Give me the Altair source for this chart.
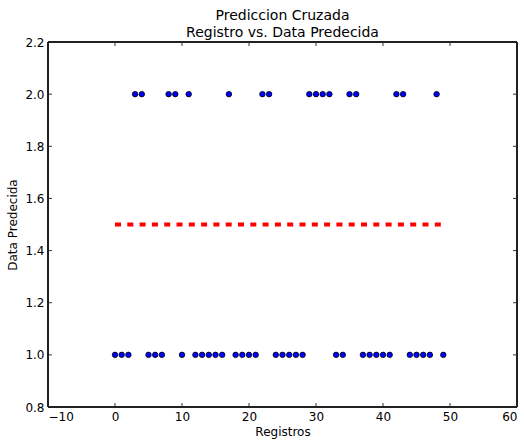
import altair as alt
import pandas as pd

registros = list(range(50))
predicho = [1, 1, 1, 2, 2, 1, 1, 1, 2, 2,
            1, 2, 1, 1, 1, 1, 1, 2, 1, 1,
            1, 1, 2, 2, 1, 1, 1, 1, 1, 2,
            2, 2, 2, 1, 1, 2, 2, 1, 1, 1,
            1, 1, 2, 2, 1, 1, 1, 1, 2, 1]
linea_x = [0, 49]
linea_y = [1.5, 1.5]
x_ticks = [-10, 0, 10, 20, 30, 40, 50, 60]
y_ticks = [0.8, 1.0, 1.2, 1.4, 1.6, 1.8, 2.0, 2.2]

W, H = 469, 365
FONT = "DejaVu Sans"

pts = pd.DataFrame({"x": registros, "y": predicho})
line_df = pd.DataFrame({"x": linea_x, "y": linea_y})
xt = pd.DataFrame({"v": x_ticks})
yt = pd.DataFrame({"v": y_ticks})

xs = alt.Scale(domain=[-10, 60], nice=False, zero=False)
ys = alt.Scale(domain=[0.8, 2.2], nice=False, zero=False)

xaxis = alt.Axis(values=x_ticks, format="d", tickSize=0, labelPadding=4,
                 title="Registros", titleFontWeight="normal", titleFontSize=12,
                 titleFont=FONT, labelFont=FONT, labelFontSize=12, labelColor="#000",
                 titleColor="#000", domain=False, grid=False, titlePadding=4)
yaxis = alt.Axis(values=y_ticks, format=".1f", tickSize=0, labelPadding=4,
                 title="Data Predecida", titleFontWeight="normal", titleFontSize=12,
                 titleFont=FONT, labelFont=FONT, labelFontSize=12, labelColor="#000",
                 titleColor="#000", domain=False, grid=False, titlePadding=5)

points = alt.Chart(pts).mark_point(filled=True, shape="circle", size=30,
                                   fill="#0000ff", stroke="#000", strokeWidth=0.8,
                                   opacity=1, fillOpacity=1, strokeOpacity=1).encode(
    x=alt.X("x:Q", scale=xs, axis=xaxis),
    y=alt.Y("y:Q", scale=ys, axis=yaxis),
)

dash = alt.Chart(line_df).mark_line(color="#ff0000", strokeWidth=4,
                                    strokeDash=[6, 6.3], strokeCap="butt").encode(
    x=alt.X("x:Q", scale=xs), y=alt.Y("y:Q", scale=ys)
)

tl = 4
rule = dict(color="#000", strokeWidth=0.8)
xb = alt.Chart(xt).mark_rule(**rule).encode(
    x=alt.X("v:Q", scale=xs), y=alt.value(H), y2=alt.value(H - tl))
xtop = alt.Chart(xt).mark_rule(**rule).encode(
    x=alt.X("v:Q", scale=xs), y=alt.value(0), y2=alt.value(tl))
yl = alt.Chart(yt).mark_rule(**rule).encode(
    y=alt.Y("v:Q", scale=ys), x=alt.value(0), x2=alt.value(tl))
yr = alt.Chart(yt).mark_rule(**rule).encode(
    y=alt.Y("v:Q", scale=ys), x=alt.value(W), x2=alt.value(W - tl))

frame_style = dict(color="#222", strokeWidth=1.5)
fr_top = alt.Chart(xt).mark_rule(**frame_style).encode(
    x=alt.value(0), x2=alt.value(W), y=alt.value(0))
fr_bot = alt.Chart(xt).mark_rule(**frame_style).encode(
    x=alt.value(0), x2=alt.value(W), y=alt.value(H))
fr_left = alt.Chart(xt).mark_rule(**frame_style).encode(
    y=alt.value(0), y2=alt.value(H), x=alt.value(0))
fr_right = alt.Chart(xt).mark_rule(**frame_style).encode(
    y=alt.value(0), y2=alt.value(H), x=alt.value(W))

chart = alt.layer(dash, points, xb, xtop, yl, yr,
                  fr_top, fr_bot, fr_left, fr_right).properties(
    width=W, height=H,
    title=alt.Title(["Prediccion Cruzada", "Registro vs. Data Predecida"],
                    font=FONT, fontSize=14, fontWeight="normal", color="#000",
                    anchor="middle", offset=-4, lineHeight=17),
    autosize=alt.AutoSizeParams(type="none"),
    padding={"left": 48, "top": 42, "right": 7, "bottom": 34},
).configure_view(stroke=None).configure(background="white")

chart.save("out.html", embed_options={"renderer": "svg", "actions": False})
